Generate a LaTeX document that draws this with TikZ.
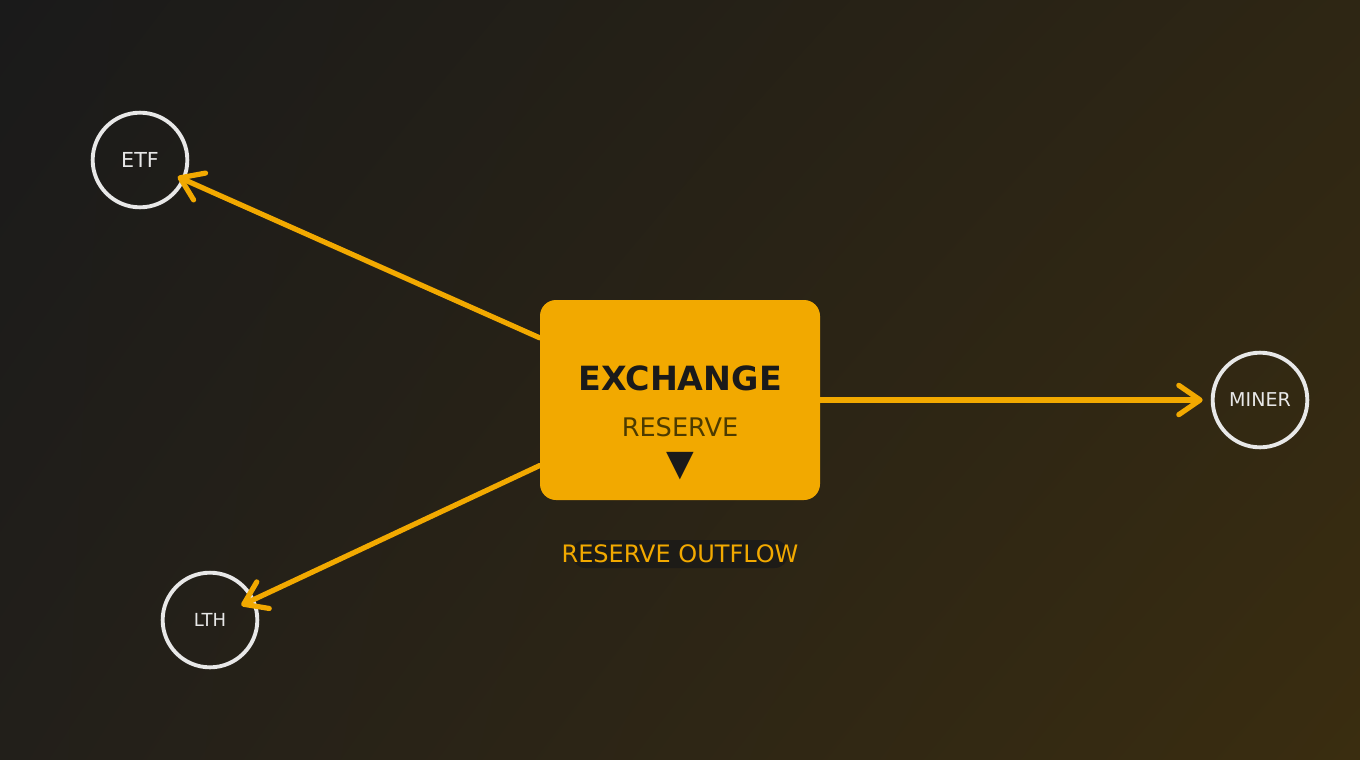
\documentclass[tikz,border=0pt]{standalone}
\usepackage{fontspec}
\setmainfont{DejaVu Sans}
\usetikzlibrary{arrows.meta,positioning,shadings}
\definecolor{btc}{HTML}{F2A900}
\definecolor{ring}{HTML}{E8E8E8}
\definecolor{ink}{HTML}{1A1A1A}
\definecolor{reservetext}{HTML}{4D3B00}
\definecolor{tagfill}{HTML}{1D1B17}
\definecolor{bgtl}{HTML}{1A1A1A}
\definecolor{bgtr}{HTML}{2E2614}
\definecolor{bgbl}{HTML}{221F1A}
\definecolor{bgbr}{HTML}{3A2D10}
\tikzstyle{holder} = [draw=ring, circle, line width=2.9pt, minimum size=71pt, inner sep=0pt, text=ring]
\tikzstyle{reserve} = [fill=btc, rectangle, rounded corners=12pt, minimum width=210pt, minimum height=150pt]
\tikzstyle{flow} = [draw=btc, line width=3.9pt, line cap=round, -{Straight Barb[length=16pt, width=22pt, round]}]

\begin{document}
\begin{tikzpicture}[x=0.75pt, y=-0.75pt]

% background
\shade [upper left=bgtl, upper right=bgtr, lower left=bgbl, lower right=bgbr] (0,0) rectangle (1360,760);
\useasboundingbox (0,0) rectangle (1360,760);

\node [reserve] (exchange) at (680,400) {};
\node [holder] (etf) at (140,160) {\raisebox{-1.5pt}{\fontsize{15.5pt}{18pt}\selectfont ETF}};
\node [holder] (lth) at (210,620) {\raisebox{-1pt}{\fontsize{13.5pt}{16pt}\selectfont LTH}};
\node [holder] (miner) at (1260,400) {\raisebox{-2pt}{\fontsize{14.3pt}{17pt}\selectfont MINER}};

\draw [flow, shorten >=-6pt] (exchange) -- (etf);
\draw [flow, shorten >=-11pt] (exchange) -- (lth);
\draw [flow, shorten >=6pt] (exchange.east) -- (miner);

\node [text=ink, font=\bfseries\fontsize{25pt}{30pt}\selectfont] (title) at (680,378) {EXCHANGE};
\node [text=reservetext, font=\fontsize{19.2pt}{23pt}\selectfont] (level) at (680,427) {RESERVE};
\node [text=ink, font=\fontsize{27pt}{30pt}\selectfont] (down) at (680,466) {▼};

\node [fill=tagfill, rounded corners=10pt, inner xsep=-7.9pt, minimum height=21pt, text=btc, font=\fontsize{18pt}{21pt}\selectfont] (outflow) at (680,554) {RESERVE OUTFLOW};
\end{tikzpicture}
\end{document}
